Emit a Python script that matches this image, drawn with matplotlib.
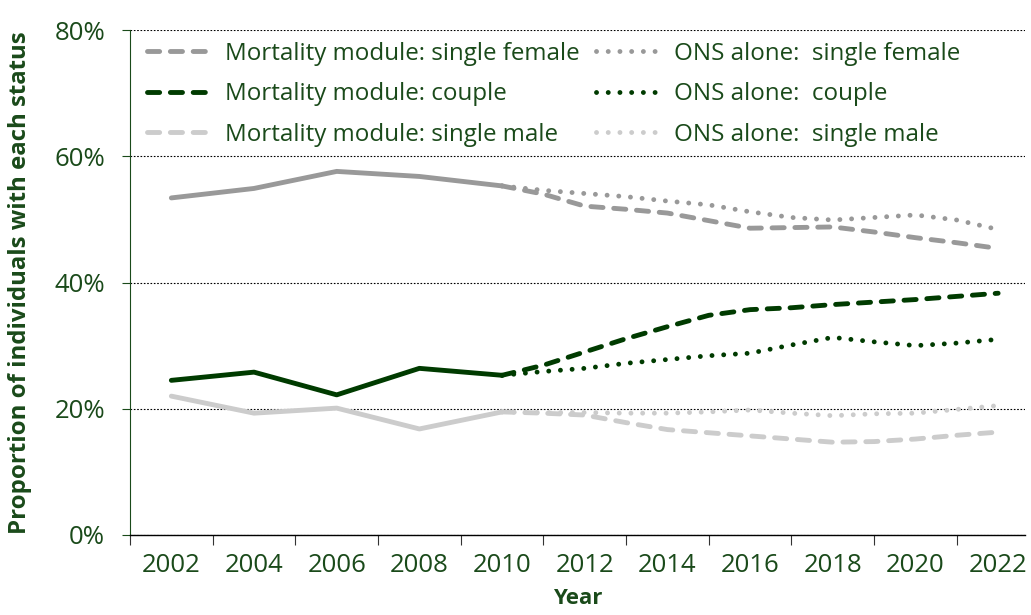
import matplotlib
matplotlib.use('Agg')
import matplotlib.pyplot as plt
from matplotlib.ticker import FixedLocator, PercentFormatter

# observed (biennial) data
hist_years = [2002, 2004, 2006, 2008, 2010]
hist_female = [53.4, 54.9, 57.6, 56.8, 55.3]
hist_couple = [24.5, 25.8, 22.2, 26.4, 25.3]
hist_male = [22.0, 19.3, 20.1, 16.8, 19.5]

# projections (annual)
proj_years = list(range(2010, 2023))
mm_female = [55.3, 54.0, 52.1, 51.6, 51.0, 49.8, 48.6, 48.7, 48.8, 48.0, 47.1, 46.3, 45.4]
mm_couple = [25.3, 26.9, 29.0, 31.1, 33.0, 34.8, 35.7, 36.0, 36.5, 36.9, 37.3, 37.8, 38.3]
mm_male = [19.5, 19.3, 19.0, 17.8, 16.7, 16.2, 15.7, 15.2, 14.7, 14.8, 15.2, 15.8, 16.3]
ons_female = [55.3, 54.6, 54.1, 53.6, 52.9, 52.3, 51.2, 50.3, 49.9, 50.3, 50.7, 49.9, 48.4]
ons_couple = [25.3, 25.9, 26.4, 27.2, 27.8, 28.4, 28.8, 30.1, 31.3, 30.6, 30.0, 30.4, 31.0]
ons_male = [19.5, 19.4, 19.4, 19.3, 19.3, 19.5, 19.8, 19.3, 18.9, 19.2, 19.3, 19.9, 20.5]

label_years = list(range(2002, 2023, 2))

c_female = '#999999'
c_couple = '#003b00'
c_male = '#cccccc'
txt = '#1a4a1a'

plt.rcParams['font.family'] = ['Open Sans', 'DejaVu Sans']

fig = plt.figure(figsize=(10.31, 6.15), dpi=100)
ax = fig.add_axes([130 / 1031, 80 / 615, 895 / 1031, 505 / 615])

lw = 3.5
dash = (2.5, 2.2)
dot = (0.01, 2.4)

ax.plot(hist_years, hist_female, color=c_female, lw=lw, solid_capstyle='round')
ax.plot(hist_years, hist_couple, color=c_couple, lw=lw, solid_capstyle='round')
ax.plot(hist_years, hist_male, color=c_male, lw=lw, solid_capstyle='round')

ax.plot(proj_years, mm_female, color=c_female, lw=lw, dashes=dash, dash_capstyle='round',
        label='Mortality module: single female')
ax.plot(proj_years, mm_couple, color=c_couple, lw=lw, dashes=dash, dash_capstyle='round',
        label='Mortality module: couple')
ax.plot(proj_years, mm_male, color=c_male, lw=lw, dashes=dash, dash_capstyle='round',
        label='Mortality module: single male')
ax.plot(proj_years, ons_female, color=c_female, lw=lw, dashes=dot, dash_capstyle='round',
        label='ONS alone:  single female')
ax.plot(proj_years, ons_couple, color=c_couple, lw=lw, dashes=dot, dash_capstyle='round',
        label='ONS alone:  couple')
ax.plot(proj_years, ons_male, color=c_male, lw=lw, dashes=dot, dash_capstyle='round',
        label='ONS alone:  single male')

ax.set_xlim(2001, 2022.65)
ax.set_ylim(0, 80)

# tick marks between the labelled years, labels on the even years
ax.xaxis.set_major_locator(FixedLocator(list(range(2001, 2023, 2))))
ax.xaxis.set_major_formatter(plt.NullFormatter())
ax.set_xticks(label_years, [str(y) for y in label_years], minor=True)
ax.tick_params(axis='x', which='major', length=7, width=0.8, color='#333333', direction='out')
ax.tick_params(axis='x', which='minor', length=0, pad=13, labelsize=18.5, labelcolor=txt)

ax.set_yticks([0, 20, 40, 60, 80])
ax.yaxis.set_major_formatter(PercentFormatter(decimals=0))
ax.tick_params(axis='y', length=6, width=0.8, color=txt, labelsize=18.5, labelcolor=txt, pad=12)

ax.grid(axis='y', linestyle=(0, (1.5, 1.5)), color='black', linewidth=0.8)
for sp in ['top', 'right']:
    ax.spines[sp].set_visible(False)
ax.spines['left'].set_color(txt)
ax.spines['bottom'].set_color('black')
ax.spines['bottom'].set_linewidth(1.0)
ax.set_axisbelow(True)

ax.set_xlabel('Year', fontsize=16, fontweight='bold', color=txt, labelpad=7)
ax.set_ylabel('Proportion of individuals with each status', fontsize=17.3,
              fontweight='bold', color=txt, labelpad=16)

leg = ax.legend(ncol=2, loc='upper left', bbox_to_anchor=(0.0, 1.01), frameon=False,
                fontsize=17.4, handlelength=2.7, columnspacing=0.65, labelspacing=0.68,
                handletextpad=0.55, borderaxespad=0.3)
for t in leg.get_texts():
    t.set_color(txt)

fig.savefig('out.png', dpi=100)
